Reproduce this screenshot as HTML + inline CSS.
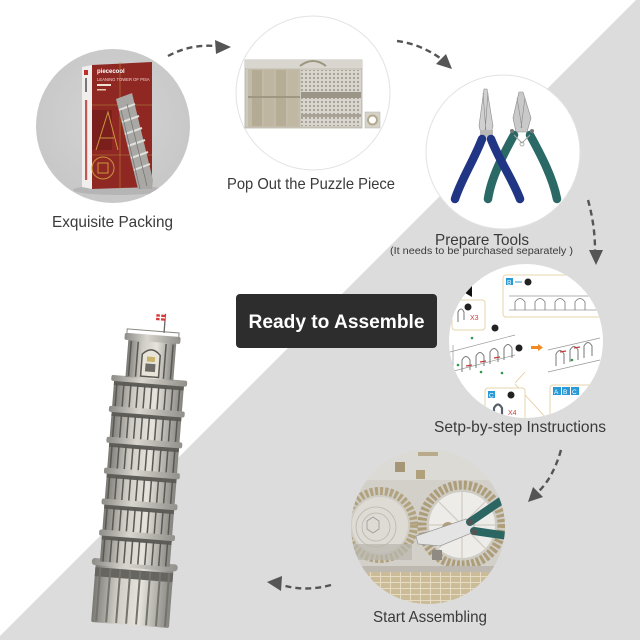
<!DOCTYPE html>
<html><head><meta charset="utf-8">
<style>
html,body{margin:0;padding:0;background:#fff;}
svg{display:block;}
text{font-family:"Liberation Sans",sans-serif;}
</style></head><body>
<svg width="640" height="640" viewBox="0 0 640 640" xmlns="http://www.w3.org/2000/svg">
<defs>
 <clipPath id="c1"><circle cx="113" cy="126" r="77"/></clipPath>
 <clipPath id="c2"><circle cx="313" cy="93" r="77"/></clipPath>
 <clipPath id="c4"><circle cx="526" cy="341" r="77"/></clipPath>
 <clipPath id="c5"><circle cx="428" cy="527" r="77"/></clipPath>
 <linearGradient id="tw" x1="0" x2="1" y1="0" y2="0">
   <stop offset="0" stop-color="#7a7873"/>
   <stop offset="0.3" stop-color="#cfccc5"/>
   <stop offset="0.6" stop-color="#e6e3dc"/>
   <stop offset="1" stop-color="#85837e"/>
 </linearGradient>
 <linearGradient id="rg" x1="0" x2="1" y1="0" y2="0">
   <stop offset="0" stop-color="#8e8c87"/>
   <stop offset="0.4" stop-color="#d8d5ce"/>
   <stop offset="1" stop-color="#92908b"/>
 </linearGradient>
 <radialGradient id="g1" cx="0.5" cy="0.45" r="0.6">
   <stop offset="0" stop-color="#d4d4d4"/>
   <stop offset="1" stop-color="#c6c6c6"/>
 </radialGradient>
 <pattern id="holes" width="4" height="4" patternUnits="userSpaceOnUse">
   <rect width="4" height="4" fill="#d8d5ce"/>
   <rect x="1" y="1" width="2" height="2" fill="#a9a398"/>
 </pattern>
 <pattern id="brick" width="10" height="6" patternUnits="userSpaceOnUse">
   <rect width="10" height="6" fill="#cbbb96"/>
   <rect width="10" height="1" fill="#e6dcc4"/>
   <rect width="1" height="6" fill="#e6dcc4"/>
 </pattern>
</defs>

<!-- background -->
<rect width="640" height="640" fill="#fff"/>
<polygon points="636,0 640,0 640,640 0,640 0,636" fill="#dcdcdc"/>

<!-- circle 1: packing -->
<circle cx="113" cy="126" r="77" fill="url(#g1)"/>
<g clip-path="url(#c1)">
  <ellipse cx="118" cy="190" rx="45" ry="5" fill="#b5b5b5"/>
  <polygon points="82,67 92,65 92,189 82,187" fill="#f1eeee"/>
  <rect x="84" y="70" width="4" height="5" fill="#c0302a"/>
  <rect x="85" y="78" width="2" height="14" fill="#777"/>
  <rect x="85" y="100" width="2.2" height="80" fill="#b8322c" opacity="0.8"/>
  <polygon points="92,65 152,62 152,187 92,189" fill="#8f2722"/>
  <polygon points="92,110 112,110 112,150 92,150" fill="#7a1f1b"/>
  <path d="M96,150 L108,112 L118,150 M100,138 L114,138" stroke="#c9973f" stroke-width="1" fill="none"/>
  <circle cx="103" cy="168" r="11" fill="none" stroke="#c9973f" stroke-width="1"/>
  <rect x="98" y="163" width="10" height="10" fill="none" stroke="#c9973f" stroke-width="1"/>
  <path d="M92,105 L152,105 M92,155 L152,155 M120,62 L120,189" stroke="#b38a3a" stroke-width="0.6" fill="none"/>
  <text x="97" y="73" font-size="6" fill="#fff" font-weight="bold">piececool</text>
  <text x="97" y="81" font-size="4.2" fill="#f3d7d0">LEANING TOWER OF PISA</text>
  <rect x="97" y="84" width="14" height="2" fill="#f0e0d0"/>
  <rect x="97" y="89" width="9" height="1.5" fill="#e8c8b0"/>
  <polygon points="116,99 132,93 153,180 152,189 138,189" fill="#a9a8a5"/>
  <path d="M119,110 L135,104 M122,122 L139,116 M125,134 L142,128 M128,146 L145,140 M131,158 L148,152 M134,170 L150,164" stroke="#e0e0dc" stroke-width="2" fill="none"/>
  <path d="M121,110 L140,189 M127,104 L147,186" stroke="#777" stroke-width="0.8" fill="none"/>
</g>

<!-- circle 2: puzzle piece -->
<circle cx="313" cy="93" r="77" fill="#fff" stroke="#e2e2e2" stroke-width="1"/>
<g>
  <rect x="245" y="60" width="117" height="68" fill="#cdc9bf" stroke="#b9b4a8" stroke-width="0.8"/>
  <rect x="245" y="60" width="117" height="8" fill="#d9d6cf"/>
  <path d="M300,66 Q313,56 326,66" stroke="#9e977f" stroke-width="2" fill="none"/>
  <rect x="248" y="69" width="52" height="58" fill="#c2bba8"/>
  <rect x="252" y="70" width="10" height="56" fill="#b3ab93"/>
  <rect x="264" y="70" width="10" height="56" fill="#beb6a0"/>
  <rect x="276" y="70" width="10" height="56" fill="#b5ad96"/>
  <rect x="288" y="70" width="10" height="56" fill="#c0b8a3"/>
  <rect x="248" y="96" width="52" height="2" fill="#9f9782"/>
  <rect x="301" y="70" width="60" height="56" fill="url(#holes)"/>
  <rect x="301" y="92" width="60" height="6" fill="#9b9587"/>
  <rect x="301" y="114" width="60" height="3" fill="#a8a296"/>
  <rect x="365" y="112" width="15" height="16" fill="#d6d2c8" stroke="#bbb" stroke-width="0.6"/>
  <circle cx="372.5" cy="120" r="4.5" fill="#fff" stroke="#b3a98e" stroke-width="2"/>
</g>

<!-- circle 3: tools -->
<circle cx="503" cy="152" r="77" fill="#fff" stroke="#e2e2e2" stroke-width="1"/>
<g>
  <!-- teal pliers -->
  <polygon points="519,92 523,92 531,118 527,132 516,132 513,118" fill="#c9c9c9" stroke="#8a8a8a" stroke-width="0.6"/>
  <path d="M517,98 L522,128 M525,98 L521,128" stroke="#888" stroke-width="0.6"/>
  <path d="M514,135 C503,155 491,178 488,199" stroke="#2b6966" stroke-width="8.5" stroke-linecap="round" fill="none"/>
  <path d="M530,135 C541,155 553,178 557,199" stroke="#2b6966" stroke-width="8.5" stroke-linecap="round" fill="none"/>
  <path d="M514,135 L522,143 L530,135" stroke="#aaa" stroke-width="1" fill="none"/>
  <circle cx="522" cy="144" r="2" fill="none" stroke="#999" stroke-width="0.8"/>
  <circle cx="512" cy="131" r="2" fill="#777"/>
  <circle cx="532" cy="131" r="2" fill="#777"/>
  <!-- blue pliers -->
  <polygon points="484,89 487,89 493,126 490,137 482,137 479,126" fill="#d0d0d0" stroke="#8a8a8a" stroke-width="0.6"/>
  <path d="M483,93 L486,132 M488,93 L485,132" stroke="#888" stroke-width="0.6"/>
  <rect x="480" y="130" width="13" height="6" fill="#b8b8b8"/>
  <path d="M482,139 C474,160 461,180 455,199" stroke="#213585" stroke-width="8.5" stroke-linecap="round" fill="none"/>
  <path d="M491,139 C499,160 513,180 520,199" stroke="#213585" stroke-width="8.5" stroke-linecap="round" fill="none"/>
</g>

<!-- circle 4: instructions -->
<circle cx="526" cy="341" r="77" fill="#fff"/>
<g clip-path="url(#c4)" font-family="Liberation Sans, sans-serif">
  <rect x="503" y="275" width="100" height="42" rx="3" fill="#fff" stroke="#e6d4aa" stroke-width="1"/>
  <rect x="506" y="278" width="7" height="7" fill="#2a9ad6"/>
  <text x="507" y="284.5" font-size="6.5" fill="#fff">B</text>
  <line x1="515" y1="282" x2="522" y2="282" stroke="#2a9ad6" stroke-width="1"/>
  <circle cx="528" cy="282" r="3.5" fill="#222"/>
  <path d="M509,296 L600,296 M509,310 L600,310" stroke="#999" stroke-width="0.7"/>
  <path d="M515,310 L515,302 Q520,295 525,302 L525,310 M535,310 L535,302 Q540,295 545,302 L545,310 M555,310 L555,302 Q560,295 565,302 L565,310 M575,310 L575,302 Q580,295 585,302 L585,310" stroke="#777" stroke-width="0.8" fill="none"/>
  <polygon points="460,290 472,286 472,297" fill="#111"/>
  <rect x="452" y="300" width="33" height="30" rx="3" fill="#fff" stroke="#e6d4aa" stroke-width="1"/>
  <circle cx="468" cy="307" r="3.5" fill="#222"/>
  <text x="470" y="320" font-size="7" fill="#d23b3b">X3</text>
  <path d="M458,322 L458,312 Q461,306 464,312 L464,320" stroke="#777" stroke-width="1" fill="none"/>
  <circle cx="495" cy="328" r="3.5" fill="#222"/>
  <circle cx="519" cy="348" r="3.5" fill="#222"/>
  <rect x="531" y="346" width="8" height="3" fill="#f08a22"/>
  <polygon points="538,344 543,347.5 538,351" fill="#f08a22"/>
  <path d="M450,352 L515,335 M450,372 L515,355 M453,345 L453,380" stroke="#999" stroke-width="0.7" fill="none"/>
  <path d="M462,372 L462,360 Q466,353 470,360 L470,370 M476,368 L476,356 Q480,349 484,356 L484,366 M490,364 L490,352 Q494,345 498,352 L498,362 M504,360 L504,348 Q508,341 512,348 L512,358" stroke="#777" stroke-width="1" fill="none"/>
  <path d="M466,366 L472,365 M480,362 L486,361 M494,358 L500,357" stroke="#c43a3a" stroke-width="1.2"/>
  <circle cx="458" cy="365" r="1.3" fill="#2e9a4a"/>
  <circle cx="481" cy="372" r="1.3" fill="#2e9a4a"/>
  <circle cx="502" cy="373" r="1.3" fill="#2e9a4a"/>
  <circle cx="472" cy="338" r="1.3" fill="#2e9a4a"/>
  <path d="M548,350 L600,338 M548,372 L600,360" stroke="#999" stroke-width="0.7" fill="none"/>
  <path d="M556,366 L556,354 Q560,347 564,354 L564,364 M570,362 L570,350 Q574,343 578,350 L578,360 M584,358 L584,346 Q588,339 592,346 L592,356" stroke="#777" stroke-width="1" fill="none"/>
  <path d="M560,352 L566,351 M574,348 L580,347" stroke="#c43a3a" stroke-width="1.2"/>
  <circle cx="572" cy="360" r="1.3" fill="#2e9a4a"/>
  <path d="M515,383 L525,372 M515,384 L548,420" stroke="#e6c89a" stroke-width="0.8"/>
  <rect x="485" y="388" width="40" height="34" rx="3" fill="#fff" stroke="#e6d4aa" stroke-width="1"/>
  <rect x="488" y="391" width="7" height="7" fill="#2a9ad6"/>
  <text x="489" y="397.5" font-size="6.5" fill="#fff">C</text>
  <circle cx="511" cy="395" r="3.5" fill="#222"/>
  <path d="M494,418 L494,408 Q498,401 502,408 L502,418" stroke="#55606a" stroke-width="2.2" fill="none"/>
  <text x="508" y="415" font-size="7" fill="#d23b3b">X4</text>
  <rect x="550" y="385" width="54" height="36" rx="3" fill="#fff" stroke="#e6d4aa" stroke-width="1"/>
  <rect x="553" y="387" width="8" height="8" fill="#2a9ad6"/>
  <rect x="562" y="387" width="8" height="8" fill="#2a9ad6"/>
  <rect x="571" y="387" width="8" height="8" fill="#2a9ad6"/>
  <text x="554" y="394" font-size="6.5" fill="#fff">A</text>
  <text x="563" y="394" font-size="6.5" fill="#fff">B</text>
  <text x="572" y="394" font-size="6.5" fill="#fff">C</text>
</g>

<!-- circle 5: assembling -->
<circle cx="428" cy="527" r="77" fill="#d3d0c9"/>
<g clip-path="url(#c5)">
  <rect x="350" y="450" width="160" height="30" fill="#dcdad4"/>
  <rect x="395" y="462" width="10" height="10" fill="#a59675"/>
  <rect x="416" y="470" width="9" height="9" fill="#b0a07c"/>
  <rect x="418" y="452" width="20" height="4" fill="#b8ab8c"/>
  <circle cx="380" cy="525" r="38" fill="#cfccc5"/>
  <circle cx="380" cy="525" r="34" fill="none" stroke="#b2a37f" stroke-width="8" stroke-dasharray="3 2"/>
  <circle cx="380" cy="525" r="28" fill="#dedbd4"/>
  <circle cx="376" cy="527" r="20" fill="none" stroke="#b8b5ae" stroke-width="0.8"/>
  <circle cx="376" cy="527" r="14" fill="none" stroke="#b8b5ae" stroke-width="0.8"/>
  <polygon points="367,521 373,517 379,521 379,529 373,533 367,529" fill="none" stroke="#999" stroke-width="0.8"/>
  <rect x="352" y="544" width="60" height="16" fill="#b9b6ae" opacity="0.7"/>
  <circle cx="462" cy="525" r="44" fill="#cfccc5"/>
  <circle cx="462" cy="525" r="40" fill="none" stroke="#ad9d78" stroke-width="9" stroke-dasharray="3 2"/>
  <circle cx="462" cy="525" r="33" fill="#eeece8"/>
  <path d="M462,492 L462,558 M429,525 L495,525 M439,502 L485,548 M485,502 L439,548" stroke="#cfcbc2" stroke-width="1.2"/>
  <circle cx="448" cy="528" r="6" fill="#b09f7a"/>
  <rect x="432" y="550" width="10" height="10" fill="#8f8b82"/>
  <rect x="350" y="566" width="160" height="6" fill="#bdb9b0"/>
  <rect x="350" y="572" width="160" height="40" fill="url(#brick)"/>
  <!-- cutter -->
  <polygon points="416,536 466,519 474,524 474,532 440,546 418,544" fill="#e4e4e4" stroke="#9a9a9a" stroke-width="0.7"/>
  <path d="M470,522 L508,496" stroke="#2b6663" stroke-width="8" stroke-linecap="round"/>
  <path d="M474,531 L508,536" stroke="#2b6663" stroke-width="8" stroke-linecap="round"/>
  <circle cx="470" cy="522" r="3" fill="#555"/>
  <circle cx="474" cy="532" r="3" fill="#555"/>
</g>

<!-- tower -->
<g transform="rotate(4.5 130 625)">
  <!-- base -->
  <rect x="91" y="566" width="78" height="59" rx="2" fill="url(#tw)"/>
  <rect x="91" y="570" width="78" height="9" fill="#67655f"/>
  <g stroke="#75736e" stroke-width="2">
    <line x1="96" y1="570" x2="96" y2="624"/><line x1="106" y1="570" x2="106" y2="624"/>
    <line x1="116" y1="570" x2="116" y2="624"/><line x1="126" y1="570" x2="126" y2="624"/>
    <line x1="136" y1="570" x2="136" y2="624"/><line x1="146" y1="570" x2="146" y2="624"/>
    <line x1="156" y1="570" x2="156" y2="624"/><line x1="165" y1="570" x2="165" y2="624"/>
  </g>
  <rect x="87" y="561" width="86" height="7" rx="3" fill="url(#rg)"/>
  <!-- galleries -->
  <g id="lv">
    <rect x="95" y="382" width="70" height="27" fill="url(#tw)"/>
    <rect x="95" y="382" width="70" height="5" fill="#5f5d58"/>
    <g stroke="#5a5854" stroke-width="1.5">
      <line x1="98" y1="385" x2="98" y2="409"/><line x1="105" y1="385" x2="105" y2="409"/>
      <line x1="112" y1="385" x2="112" y2="409"/><line x1="119" y1="385" x2="119" y2="409"/>
      <line x1="126" y1="385" x2="126" y2="409"/><line x1="133" y1="385" x2="133" y2="409"/>
      <line x1="140" y1="385" x2="140" y2="409"/><line x1="147" y1="385" x2="147" y2="409"/>
      <line x1="154" y1="385" x2="154" y2="409"/><line x1="161" y1="385" x2="161" y2="409"/>
    </g>
    <rect x="92" y="377" width="76" height="6" rx="2" fill="url(#rg)"/>
  </g>
  <use href="#lv" transform="translate(0,31)"/>
  <use href="#lv" transform="translate(0,62)"/>
  <use href="#lv" transform="translate(0,93)"/>
  <use href="#lv" transform="translate(0,124)"/>
  <use href="#lv" transform="translate(0,155)"/>
  <!-- belfry -->
  <rect x="106" y="340" width="48" height="38" fill="url(#tw)"/>
  <g stroke="#5a5854" stroke-width="1.5">
    <line x1="109" y1="342" x2="109" y2="377"/><line x1="116" y1="342" x2="116" y2="377"/>
    <line x1="144" y1="342" x2="144" y2="377"/><line x1="151" y1="342" x2="151" y2="377"/>
  </g>
  <path d="M121,376 L121,354 Q130,344 139,354 L139,376 Z" fill="#e8e4da" stroke="#5a5853" stroke-width="1.5"/>
  <rect x="126" y="356" width="8" height="5" fill="#c9b36a"/>
  <rect x="125" y="363" width="10" height="8" fill="#6d6b66"/>
  <rect x="102" y="334" width="56" height="7" rx="2" fill="url(#rg)"/>
  <path d="M104,334 L104,330 L156,330 L156,334" stroke="#8a8883" stroke-width="1" fill="none"/>
  <line x1="141" y1="312" x2="141" y2="331" stroke="#666" stroke-width="1.3"/>
  <rect x="132" y="313" width="9" height="6" fill="#d63a3a"/>
  <rect x="135.5" y="313" width="1.4" height="6" fill="#fff"/>
  <rect x="132" y="315.4" width="9" height="1.3" fill="#fff"/>
</g>

<!-- Ready box -->
<rect x="236" y="294" width="201" height="54" rx="4" fill="#2d2d2d"/>
<text x="336.5" y="328" font-size="19" font-weight="bold" fill="#fff" text-anchor="middle" textLength="176" lengthAdjust="spacingAndGlyphs">Ready to Assemble</text>

<!-- labels -->
<g fill="#3a3a3a" font-size="16">
  <text x="52" y="227" textLength="121" lengthAdjust="spacingAndGlyphs">Exquisite Packing</text>
  <text x="227" y="189" textLength="168" lengthAdjust="spacingAndGlyphs">Pop Out the Puzzle Piece</text>
  <text x="435" y="245" textLength="94" lengthAdjust="spacingAndGlyphs">Prepare Tools</text>
  <text x="390" y="254" font-size="10.5" textLength="183" lengthAdjust="spacingAndGlyphs">(It needs to be purchased separately  )</text>
  <text x="434" y="432" textLength="172" lengthAdjust="spacingAndGlyphs">Setp-by-step Instructions</text>
  <text x="373" y="622" textLength="114" lengthAdjust="spacingAndGlyphs">Start Assembling</text>
</g>

<!-- arrows -->
<g stroke="#555" stroke-width="2.4" fill="none" stroke-dasharray="6 4">
  <path d="M168,56 Q190,44 216,46"/>
  <path d="M397,41 Q420,44 440,58"/>
  <path d="M588,200 Q595,225 595,250"/>
  <path d="M561,450 Q553,478 538,492"/>
  <path d="M331,585 Q305,592 282,585"/>
</g>
<g fill="#555">
  <polygon points="231,47 215,40 216,54"/>
  <polygon points="452,69 436,64 446,54"/>
  <polygon points="596,265 589,250 603,250"/>
  <polygon points="528,502 533,487 543,497"/>
  <polygon points="267,582 282,576 281,591"/>
</g>
</svg>
</body></html>
